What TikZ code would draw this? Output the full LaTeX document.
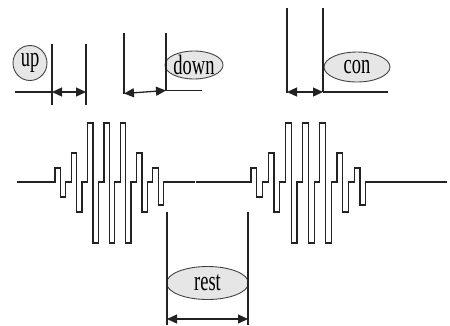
\documentclass[tikz,border=0pt]{standalone}
\usepackage{fontspec}
\newfontfamily\lblfont[FakeStretch=0.66]{Liberation Serif}
\usetikzlibrary{arrows.meta,shapes.geometric}
\definecolor{ink}{HTML}{222222}
\definecolor{lblfill}{HTML}{E6E6E6}
\tikzset{
  wave/.style={draw=ink, line width=1.2pt, line join=miter},
  marker/.style={draw=ink, line width=1.1pt},
  span/.style={draw=ink, line width=1.3pt, {Triangle[length=10pt,width=9pt]}-{Triangle[length=10pt,width=9pt]}},
  tag/.style={ellipse, draw=ink!85, line width=0.9pt, fill=lblfill, inner sep=0pt,
              font=\lblfont\fontsize{28}{28}\selectfont, text=black},
}
\begin{document}
\begin{tikzpicture}[x=1pt, y=-1pt]
\useasboundingbox (0,0) rectangle (450,325);

% labels
\node[tag, minimum width=34pt, minimum height=35pt] (up) at (30,63) {up};
\node[tag, minimum width=46pt, minimum height=28pt] (down) at (194,65) {down};
\node[tag, minimum width=66pt, minimum height=30pt] (con) at (357,67) {con};
\node[tag, minimum width=82pt, minimum height=33pt] (rest) at (207.5,283) {rest};

% "up" markers
\coordinate (uL) at (15,92);
\coordinate (u1) at (52,92);
\coordinate (u2) at (86,92);
\draw[marker] (52,44) -- (52,105);
\draw[marker] (86,44) -- (86,105);
\draw[marker] (uL) -- (u1);
\draw[span] (u1) -- (u2);

% "down" markers
\coordinate (d1) at (124,93.5);
\coordinate (d2) at (166,90.5);
\coordinate (dR) at (202,90.5);
\draw[marker] (124,33) -- (d1);
\draw[marker] (166,33) -- (d2);
\draw[marker] (d2) -- (dR);
\draw[span] (d1) -- (d2);

% "con" markers
\coordinate (c1) at (287,92);
\coordinate (c2) at (323,92);
\coordinate (cR) at (388,92);
\draw[marker] (287,8) -- (287,93);
\draw[marker] (323,8) -- (c2);
\draw[marker] (c2) -- (cR);
\draw[span] (c1) -- (c2);

% "rest" markers
\coordinate (r1) at (167,319);
\coordinate (r2) at (248,319);
\draw[marker] (167,212) -- (167,325);
\draw[marker] (248,212) -- (248,325);
\draw[span] (r1) -- (r2);

% first pulse burst
\coordinate (w0) at (17,182);
\draw[wave] (w0) -- (55,182)
  \foreach \a/\b in {14/15,29/30,59/61,59/61,59/61,29/30,14/23} {
    -- ++(0,-\a) -- ++(5.4,0) -- ++(0,{\a+\b}) -- ++(5.3,0) -- ++(0,-\b) -- ++(5.6,0)
  } -- (194.5,182);

% second pulse burst
\coordinate (w1) at (195.5,182);
\draw[wave] (w1) -- (251,182)
  \foreach \a/\b in {14/15,29/30,59/61,59/61,59/61,29/30,14/23} {
    -- ++(0,-\a) -- ++(5.7,0) -- ++(0,{\a+\b}) -- ++(5.8,0) -- ++(0,-\b) -- ++(5.7,0)
  } -- (447,182);
\end{tikzpicture}
\end{document}
